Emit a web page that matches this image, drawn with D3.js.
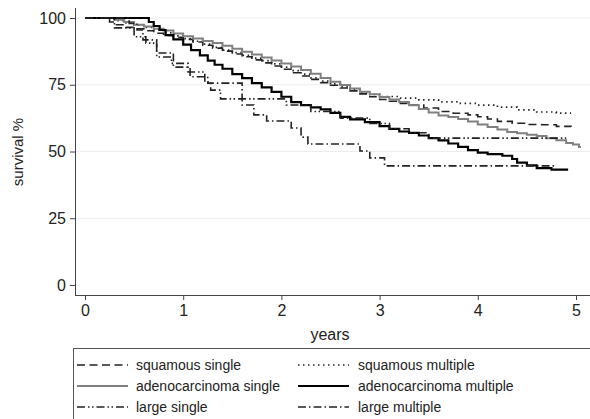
<!DOCTYPE html>
<html><head><meta charset="utf-8">
<script src="https://cdn.jsdelivr.net/npm/d3@7"></script>
<style>body{margin:0;background:#fff}svg{display:block;font-family:"Liberation Sans",Arial,sans-serif}</style>
</head><body><svg id="c" width="590" height="419"></svg>
<script>
const xTicks = [0,1,2,3,4,5];
const yTicks = [0,25,50,75,100];
const seriesNames = ["squamous single","squamous multiple","adenocarcinoma single","adenocarcinoma multiple","large single","large multiple"];

const squamousSingleT = [0,0.25,0.32,0.4,0.5,0.6,0.7,0.8,0.9,1.0,1.1,1.2,1.3,1.4,1.5,1.6,1.7,1.8,1.9,2.0,2.1,2.2,2.3,2.4,2.5,2.6,2.7,2.8,2.9,3.0,3.1,3.2,3.3,3.45,3.6,3.75,3.9,4.0,4.1,4.2,4.35,4.5,4.65,4.8,4.95];
const squamousSingleS = [100,98.5,97.5,96.5,96,95.2,94.3,93.5,92.8,92,91,89.8,88.7,87.6,86.5,85.5,84.3,83.2,82,80.8,79.5,78.3,77,75.8,74.8,73.8,72.7,71.6,70.5,69.5,68.8,68,67.4,66.3,65,64.3,63.7,63,62.2,61.3,60.6,60.1,60,59.4,59.3];

const squamousMultipleT = [0,0.3,0.4,0.5,0.6,0.7,0.8,0.9,1.0,1.1,1.2,1.3,1.4,1.5,1.6,1.7,1.8,1.9,2.0,2.1,2.2,2.3,2.4,2.5,2.6,2.7,2.8,2.9,3.0,3.2,3.4,3.6,3.8,4.0,4.2,4.4,4.6,4.8,4.95];
const squamousMultipleS = [100,99,98.2,97.3,96.5,95.5,94.4,93.3,92.3,91.3,90.2,89,88,87,86,85,84,82.8,81.6,80.3,79,77.6,76.4,75.3,74.3,73.3,72.3,71.4,70.6,70,69.3,68.6,68,67.4,66.6,65.6,64.8,64.4,64.4];

const adenoSingleT = [0,0.3,0.4,0.5,0.6,0.7,0.8,0.9,1.0,1.1,1.2,1.3,1.4,1.5,1.6,1.7,1.8,1.9,2.0,2.1,2.2,2.3,2.4,2.5,2.6,2.7,2.8,2.9,3.0,3.1,3.2,3.3,3.4,3.5,3.6,3.7,3.8,3.9,4.0,4.1,4.2,4.3,4.4,4.5,4.6,4.7,4.8,4.9,4.97,5.03,5.05];
const adenoSingleS = [100,99.3,98.5,97.5,96.8,96,95.3,94.2,93.2,92.3,91.4,90.6,89.6,88.5,87.4,86.3,85.2,84.1,83,81.8,80.5,79.1,77.5,76.1,74.9,73.6,72.4,71.4,70.4,69.5,68.5,67.3,65.9,64.6,63.5,62.9,62.2,61.2,60.1,59.2,58.2,57.3,56.8,56.3,55.8,55,54.2,53.2,52.6,51.7,51.7];

const adenoMultipleT = [0,0.6,0.65,0.7,0.76,0.82,0.9,1.0,1.08,1.17,1.25,1.32,1.4,1.5,1.6,1.7,1.8,1.9,2.0,2.1,2.2,2.3,2.4,2.5,2.6,2.7,2.85,3.0,3.1,3.2,3.3,3.4,3.5,3.6,3.7,3.8,3.9,4.0,4.1,4.25,4.35,4.4,4.5,4.6,4.75,4.92];
const adenoMultipleS = [100,100,98.5,97,95.5,93.6,92,90,88,86,84,82.5,81,79,77.5,75.6,74,72.3,70.5,68.5,67.4,66.5,65.8,64.5,63,62,61,59.5,58.5,57.5,57,56,55,54.2,53,51.7,50.5,49.6,49,48.4,47.2,45.8,44.8,43.8,43.2,43.2];

const largeSingleT = [0,0.3,0.5,0.62,0.73,0.88,1.05,1.22,1.28,1.38,2.0,2.05,2.3,2.6,2.9,3.1,3.3,3.5,4.9];
const largeSingleS = [100,96.3,93,90.6,85.4,83,79.8,76,73,69.7,69.7,67.4,65,62.5,60.5,58.5,57,55,55];

const largeMultipleT = [0,0.45,0.53,0.59,0.73,0.9,1.07,1.25,1.55,1.6,1.72,1.85,2.1,2.2,2.27,2.77,2.8,2.9,3.05,4.78];
const largeMultipleS = [100,98,95.5,91.8,86.9,81.6,78,75.6,75.6,67.4,63.7,61.4,58.8,55.4,52.8,52.8,50.2,47.6,44.6,44.6];

const styles = [
  {color:"#222", width:1.6, dash:"8,4.5"},
  {color:"#222", width:1.7, dash:"1.5,3.5"},
  {color:"#808080", width:2, dash:null},
  {color:"#000", width:2.2, dash:null},
  {color:"#222", width:1.6, dash:"8,3,1.5,2.5,1.5,3"},
  {color:"#222", width:1.6, dash:"8,3,1.5,3"}
];
const seriesT = [squamousSingleT,squamousMultipleT,adenoSingleT,adenoMultipleT,largeSingleT,largeMultipleT];
const seriesS = [squamousSingleS,squamousMultipleS,adenoSingleS,adenoMultipleS,largeSingleS,largeMultipleS];

const svg = d3.select("#c");
const x = d3.scaleLinear().domain([0,5]).range([85,576]);
const y = d3.scaleLinear().domain([0,100]).range([285,18]);
const FF = "Liberation Sans, Arial, sans-serif";

svg.append("g").selectAll("line").data(yTicks.filter(d=>d>0)).join("line")
  .attr("x1",75).attr("x2",590).attr("y1",d=>y(d)).attr("y2",d=>y(d))
  .attr("stroke","#ececec").attr("stroke-width",1);

const ya = svg.append("g").attr("transform","translate(75,0)")
  .call(d3.axisLeft(y).tickValues(yTicks).tickFormat(d3.format("d")).tickSize(5).tickPadding(4));
ya.select(".domain").attr("d","M0.5,8V295.5").attr("stroke","#444");
ya.selectAll(".tick line").attr("stroke","#444");
ya.selectAll("text").attr("font-size",16).attr("fill","#222").attr("font-family",FF);

const xa = svg.append("g").attr("transform","translate(0,295)")
  .call(d3.axisBottom(x).tickValues(xTicks).tickFormat(d3.format("d")).tickSize(5).tickPadding(5));
xa.select(".domain").attr("d","M75,0.5H590").attr("stroke","#444");
xa.selectAll(".tick line").attr("stroke","#444");
xa.selectAll("text").attr("font-size",16).attr("fill","#222").attr("font-family",FF);

svg.append("text").attr("x",330).attr("y",340).attr("text-anchor","middle")
  .attr("font-size",16).attr("fill","#222").text("years");
svg.append("text").attr("transform","translate(23,152) rotate(-90)").attr("text-anchor","middle")
  .attr("font-size",15).attr("fill","#222").text("survival %");

const line = d3.line().x(d=>x(d[0])).y(d=>y(d[1])).curve(d3.curveStepAfter);
seriesT.forEach((ts,i)=>{
  const pts = ts.map((t,j)=>[t,seriesS[i][j]]);
  const p = svg.append("path").attr("d",line(pts)).attr("fill","none")
    .attr("stroke",styles[i].color).attr("stroke-width",styles[i].width);
  if(styles[i].dash) p.attr("stroke-dasharray",styles[i].dash);
});

svg.append("rect").attr("x",73.5).attr("y",348.5).attr("width",530).attr("height",90)
  .attr("fill","none").attr("stroke","#555").attr("stroke-width",1);
const lx = [77,298], tx=[136,358], ly=[365,386,407];
seriesNames.forEach((n,i)=>{
  const col=i%2, row=Math.floor(i/2);
  const l = svg.append("line").attr("x1",lx[col]).attr("x2",lx[col]+51)
    .attr("y1",ly[row]).attr("y2",ly[row])
    .attr("stroke",styles[i].color).attr("stroke-width",styles[i].width);
  if(styles[i].dash) l.attr("stroke-dasharray",styles[i].dash);
  svg.append("text").attr("x",tx[col]).attr("y",ly[row]+5).attr("font-size",14)
    .attr("fill","#222").text(n);
});
</script></body></html>
